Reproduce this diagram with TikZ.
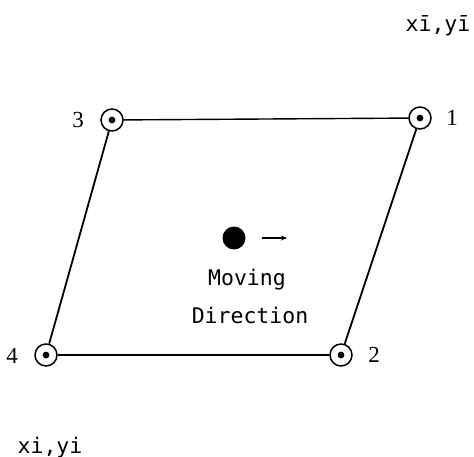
\documentclass[tikz,border=0pt]{standalone}
\usepackage{fontspec}
\setmainfont{Liberation Serif}
\newfontfamily\monofont{DejaVu Sans Mono}
\usetikzlibrary{arrows.meta}
\begin{document}
\begin{tikzpicture}[x=1pt,y=-1pt,
  vertex/.style={circle,draw,line width=1.5pt,minimum size=22pt,inner sep=0pt},
  edge/.style={line width=1.8pt},
  hedge/.style={line width=1.4pt},
  numlabel/.style={font=\fontsize{23}{25}\selectfont,inner sep=0pt},
  txt/.style={font=\monofont\fontsize{21.5}{24}\selectfont,inner sep=0pt,anchor=base}]
\useasboundingbox (0,0) rectangle (474,457);
\node[vertex] (n1) at (420,118) {};
\node[vertex] (n2) at (341,355) {};
\node[vertex] (n3) at (112,120) {};
\node[vertex] (n4) at (46,355) {};
\foreach \n in {n1,n2,n3,n4} \fill (\n.center) circle[radius=3.4pt];
\node[numlabel] (l1) at (452,118) {1};
\node[numlabel] (l2) at (374,355) {2};
\node[numlabel] (l3) at (78,120) {3};
\node[numlabel] (l4) at (12,356) {4};
\draw[hedge] (n3) -- (n1);
\draw[hedge] (n4) -- (n2);
\draw[edge] (n3) -- (n4);
\draw[edge] (n1) -- (n2);
\node[circle,fill,minimum size=23pt,inner sep=0pt] (dot) at (234,238) {};
\coordinate (a0) at (262,238);
\coordinate (a1) at (287,238);
\draw[line width=1.2pt,-{Stealth[length=6pt,width=5pt]}] (a0) -- (a1);
\node[txt] (mv) at (247,285) {Moving};
\node[txt] (dir) at (250,323) {Direction};
\node[txt] (top) at (438,32) {xī,yī};
\node[txt] (bot) at (50,453) {xi,yi};
\end{tikzpicture}
\end{document}
